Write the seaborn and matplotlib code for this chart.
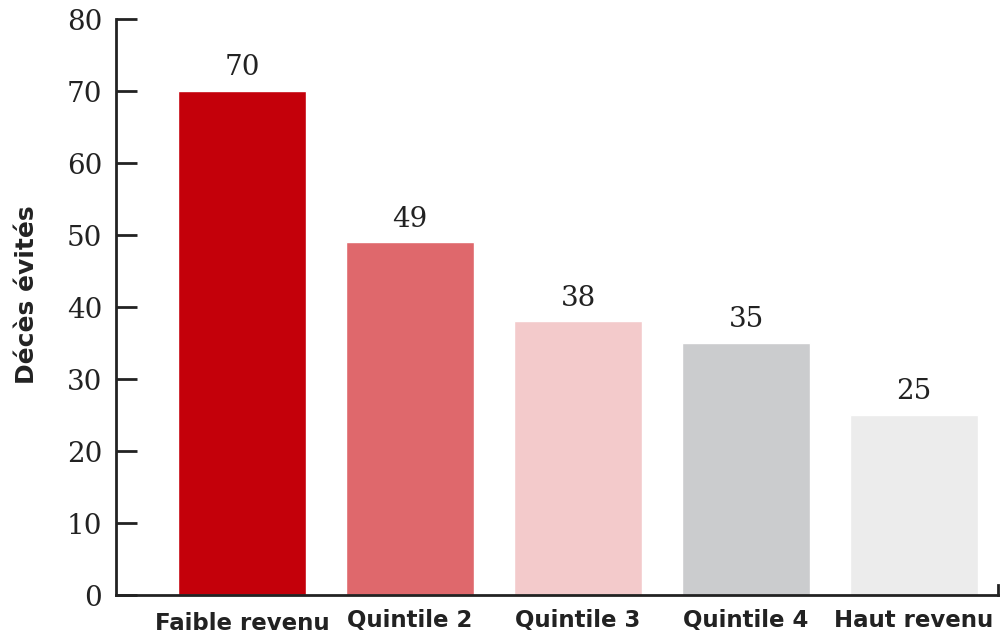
import matplotlib
matplotlib.use("Agg")
import matplotlib.pyplot as plt
import seaborn as sns
import pandas as pd

categories = ["Faible revenu", "Quintile 2", "Quintile 3", "Quintile 4", "Haut revenu"]
deces = [70, 49, 38, 35, 25]
couleurs = ["#C4000A", "#DF686C", "#F3CACB", "#CBCCCE", "#ECECEC"]
yticks = [0, 10, 20, 30, 40, 50, 60, 70, 80]

df = pd.DataFrame({"Categorie": categories, "Deces": deces})

sns.set_style("white")
plt.rcParams["font.family"] = ["DejaVu Sans"]

fig = plt.figure(figsize=(10.02, 6.37), dpi=100)
ax = fig.add_axes([0.1158, 0.0659, 0.8802, 0.9041])

sns.barplot(data=df, x="Categorie", y="Deces", hue="Categorie", palette=couleurs,
            width=0.762, legend=False, ax=ax, saturation=1)

ax.set_xlim(-0.75, 4.5)
ax.set_ylim(0, 80)
ax.set_yticks(yticks)
ax.set_yticklabels([str(t) for t in yticks], fontfamily="DejaVu Serif", fontsize=20, color="#222222")

ax.set_xticks(range(len(categories)))
ax.set_xticklabels(categories, fontfamily="DejaVu Sans", fontweight="bold", fontsize=16.5, color="#222222")
ax.tick_params(axis="x", length=0, pad=10)
ax.tick_params(axis="y", left=True, direction="in", length=15, width=2, color="#222222", pad=10)
# premier label un peu plus bas
lbl0 = ax.get_xticklabels()[0]
lbl0.set_y(-0.005)

ax.set_xlabel("")
ax.set_ylabel("Décès évités", fontfamily="DejaVu Sans", fontweight="bold", fontsize=18,
              color="#222222")
ax.yaxis.set_label_coords(-0.087, 0.521)

ax.spines["top"].set_visible(False)
for s in ["left", "bottom", "right"]:
    ax.spines[s].set_color("#222222")
    ax.spines[s].set_linewidth(2)
ax.spines["right"].set_bounds(0, 1.4)

for cont in ax.containers:
    ax.bar_label(cont, fmt="%d", padding=7, fontfamily="DejaVu Serif", fontsize=20, color="#222222")

fig.savefig("out.png", dpi=100)
